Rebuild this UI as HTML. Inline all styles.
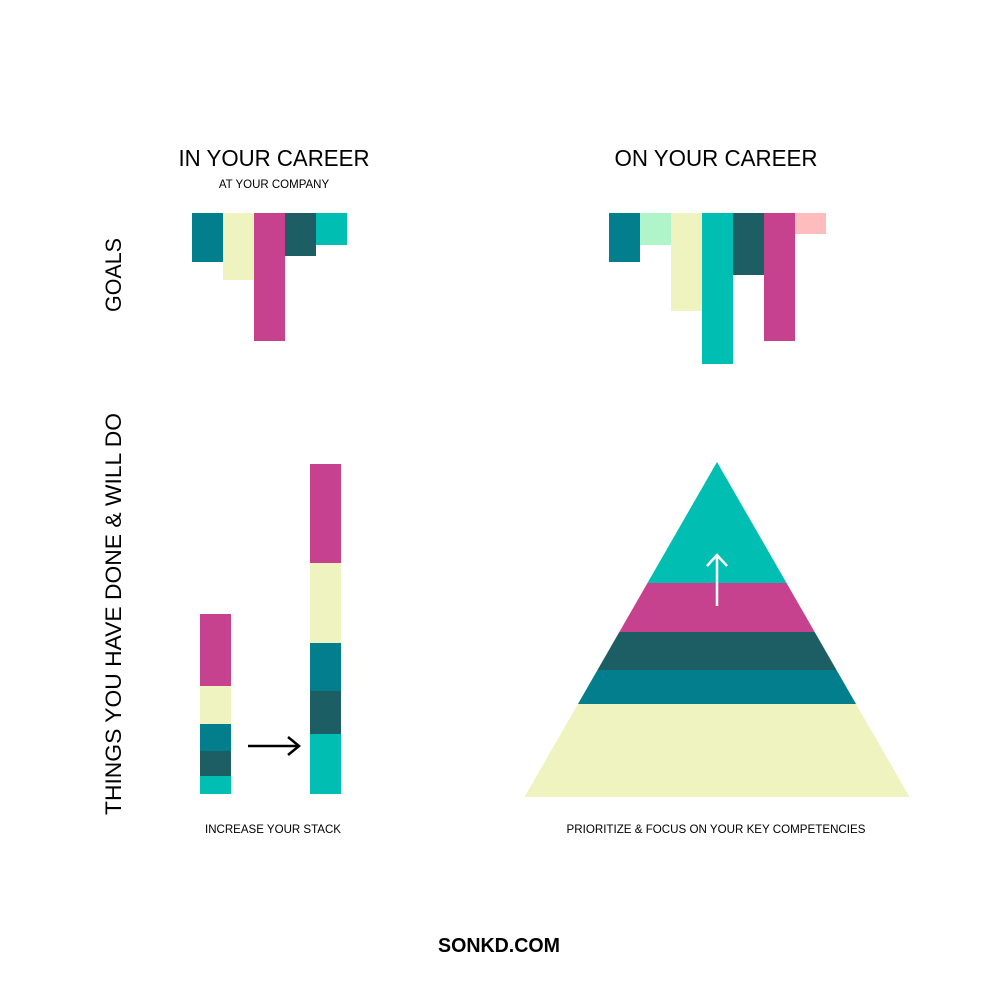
<!DOCTYPE html>
<html><head><meta charset="utf-8"><style>
body{margin:0;background:#fff;}
svg{display:block;font-family:"Liberation Sans",sans-serif;}
</style></head><body>
<svg id="c" width="1000" height="1000" viewBox="0 0 1000 1000">
<rect width="1000" height="1000" fill="#fff"/>
<text x="274" y="166" font-size="23" text-anchor="middle" textLength="191" lengthAdjust="spacingAndGlyphs">IN YOUR CAREER</text>
<text x="274" y="188" font-size="11.5" text-anchor="middle">AT YOUR COMPANY</text>
<text x="716" y="166" font-size="23" text-anchor="middle" textLength="203" lengthAdjust="spacingAndGlyphs">ON YOUR CAREER</text>
<text transform="translate(121,275) rotate(-90)" font-size="22" text-anchor="middle" textLength="74" lengthAdjust="spacingAndGlyphs">GOALS</text>
<text transform="translate(121,614) rotate(-90)" font-size="22" text-anchor="middle" textLength="402" lengthAdjust="spacingAndGlyphs">THINGS YOU HAVE DONE &amp; WILL DO</text>
<text x="273" y="833" font-size="11.5" text-anchor="middle" textLength="136" lengthAdjust="spacingAndGlyphs">INCREASE YOUR STACK</text>
<text x="716" y="833" font-size="11.5" text-anchor="middle" textLength="299" lengthAdjust="spacingAndGlyphs">PRIORITIZE &amp; FOCUS ON YOUR KEY COMPETENCIES</text>
<text x="499" y="952" font-size="20" font-weight="bold" text-anchor="middle" textLength="122" lengthAdjust="spacingAndGlyphs">SONKD.COM</text>
<g id="g1"></g><g id="g2"></g><g id="s1"></g><g id="s2"></g><g id="pyr"></g>
<line x1="248" y1="746" x2="298" y2="746" stroke="#000" stroke-width="2.5"/>
<polyline points="288,737 299,746 288,755" fill="none" stroke="#000" stroke-width="2.5"/>
</svg>
<script>
const C={teal:'#037E8C',yel:'#EFF3BF',mag:'#C6418E',dark:'#1C5E63',cyan:'#00BEB2',mint:'#AFF5C9',pink:'#FFBCBC'};
const goals1Colors=['teal','yel','mag','dark','cyan'];
const goals1Values=[49,67,128,43,32];
const goals2Colors=['teal','mint','yel','cyan','dark','mag','pink'];
const goals2Values=[49,32,98,151,62,128,21];
const stack1Colors=['cyan','dark','teal','yel','mag'];
const stack1Values=[18,25,27,38,72];
const stack2Colors=['cyan','dark','teal','yel','mag'];
const stack2Values=[60,43,48,80,99];
const pyrColors=['yel','teal','dark','mag','cyan'];
const pyrValues=[93,34,38,49,121];
const NS='http://www.w3.org/2000/svg';
function rect(g,x,y,w,h,f){const r=document.createElementNS(NS,'rect');r.setAttribute('x',x);r.setAttribute('y',y);r.setAttribute('width',w);r.setAttribute('height',h);r.setAttribute('fill',f);g.appendChild(r);return r;}
function goals(id,x0,vals,cols){const g=document.getElementById(id);vals.forEach((v,i)=>{const r=rect(g,x0+i*31,213,31,v,C[cols[i]]);

});}
goals('g1',192,goals1Values,goals1Colors);
goals('g2',609,goals2Values,goals2Colors);
function stack(id,x,vals,cols){const g=document.getElementById(id);let y=794;vals.forEach((v,i)=>{y-=v;const r=rect(g,x,y,31,v,C[cols[i]]);

});}
stack('s1',200,stack1Values,stack1Colors);
stack('s2',310,stack2Values,stack2Colors);
(function(){const g=document.getElementById('pyr');const ax=717,top=462,base=797,hw=192.5;const H=base-top;
function xs(y){const t=(y-top)/H;return [ax-hw*t,ax+hw*t];}
let y=base;pyrValues.forEach((v,i)=>{const y2=y-v;const a=xs(y),b=xs(y2);const p=document.createElementNS(NS,'polygon');
p.setAttribute('points',`${a[0]},${y} ${a[1]},${y} ${b[1]},${y2} ${b[0]},${y2}`);p.setAttribute('fill',C[pyrColors[i]]);


g.appendChild(p);y=y2;});
const l=document.createElementNS(NS,'path');l.setAttribute('d','M717 606 L717 556 M707 566 L717 555 L727 566');l.setAttribute('stroke','#fff');l.setAttribute('stroke-width','2.5');l.setAttribute('fill','none');


g.appendChild(l);})();
</script>
</body></html>
